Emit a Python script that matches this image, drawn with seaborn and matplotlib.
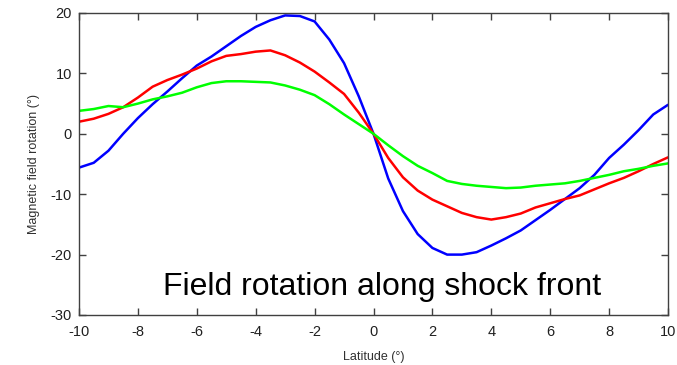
import numpy as np
import pandas as pd
import matplotlib
matplotlib.use("Agg")
import matplotlib.pyplot as plt
import seaborn as sns

# latitude grid (degrees)
latitude = np.arange(-10, 10.01, 0.5)

# field rotation (degrees)
blue_vals = [-5.6, -4.8, -2.8, 0.0, 2.6, 4.9, 7.0, 9.2, 11.3, 12.8, 14.5,
             16.2, 17.7, 18.8, 19.6, 19.5, 18.6, 15.6, 11.7, 6.2, 0.0,
             -7.4, -12.8, -16.6, -18.9, -20.0, -20.0, -19.6, -18.5, -17.3, -16.0,
             -14.3, -12.6, -10.8, -9.0, -6.8, -4.0, -1.8, 0.6, 3.2, 4.8]
red_vals = [2.0, 2.5, 3.3, 4.4, 6.0, 7.8, 8.9, 9.8, 10.8, 12.0, 12.9,
            13.2, 13.6, 13.8, 13.0, 11.8, 10.3, 8.5, 6.6, 3.5, 0.0,
            -4.0, -7.2, -9.4, -10.9, -12.0, -13.1, -13.8, -14.2, -13.8, -13.2,
            -12.2, -11.5, -10.8, -10.2, -9.2, -8.2, -7.3, -6.2, -5.0, -3.9]
green_vals = [3.8, 4.1, 4.6, 4.4, 5.0, 5.7, 6.2, 6.8, 7.7, 8.4, 8.7,
              8.7, 8.6, 8.5, 8.0, 7.3, 6.4, 4.9, 3.2, 1.6, 0.0,
              -1.9, -3.7, -5.3, -6.5, -7.8, -8.3, -8.6, -8.8, -9.0, -8.9,
              -8.6, -8.4, -8.2, -7.8, -7.3, -6.8, -6.2, -5.8, -5.3, -4.9]

series_names = ["blue", "red", "green"]
series_colors = {"blue": "#0000ff", "red": "#ff0000", "green": "#00ff00"}

df = pd.concat([
    pd.DataFrame({"lat": latitude, "rot": vals, "series": name})
    for name, vals in zip(series_names, [blue_vals, red_vals, green_vals])
])

sns.set_style("ticks")
plt.rcParams["font.family"] = ["Liberation Sans", "DejaVu Sans"]
plt.rcParams["axes.unicode_minus"] = False

fig = plt.figure(figsize=(6.77, 3.65), dpi=100)
ax = fig.add_axes([79 / 677, 50 / 365, 589 / 677, 302 / 365])

sns.lineplot(data=df, x="lat", y="rot", hue="series", palette=series_colors,
             linewidth=1.8, legend=False, ax=ax)

ax.set_xlim(-10, 10)
ax.set_ylim(-30, 20)
ax.set_xticks(range(-10, 11, 2))
ax.set_yticks(range(-30, 21, 10))
ax.set_xlabel("Latitude (°)", fontsize=9, color="#303030", labelpad=9)
ax.set_ylabel("Magnetic field rotation (°)", fontsize=9, color="#303030", labelpad=8)

for side in ["top", "right", "bottom", "left"]:
    ax.spines[side].set_visible(True)
    ax.spines[side].set_color("#404040")
    ax.spines[side].set_linewidth(1.0)
ax.tick_params(direction="in", length=5, width=1, colors="#404040",
               top=True, right=True, labelsize=10.5, labelcolor="#202020")
ax.tick_params(axis="x", pad=7)
ax.tick_params(axis="y", pad=5)

ax.text(0.143, 0.066, "Field rotation along shock front", transform=ax.transAxes,
        fontsize=23, va="baseline", ha="left", color="black")

fig.savefig("out.png", dpi=100)
